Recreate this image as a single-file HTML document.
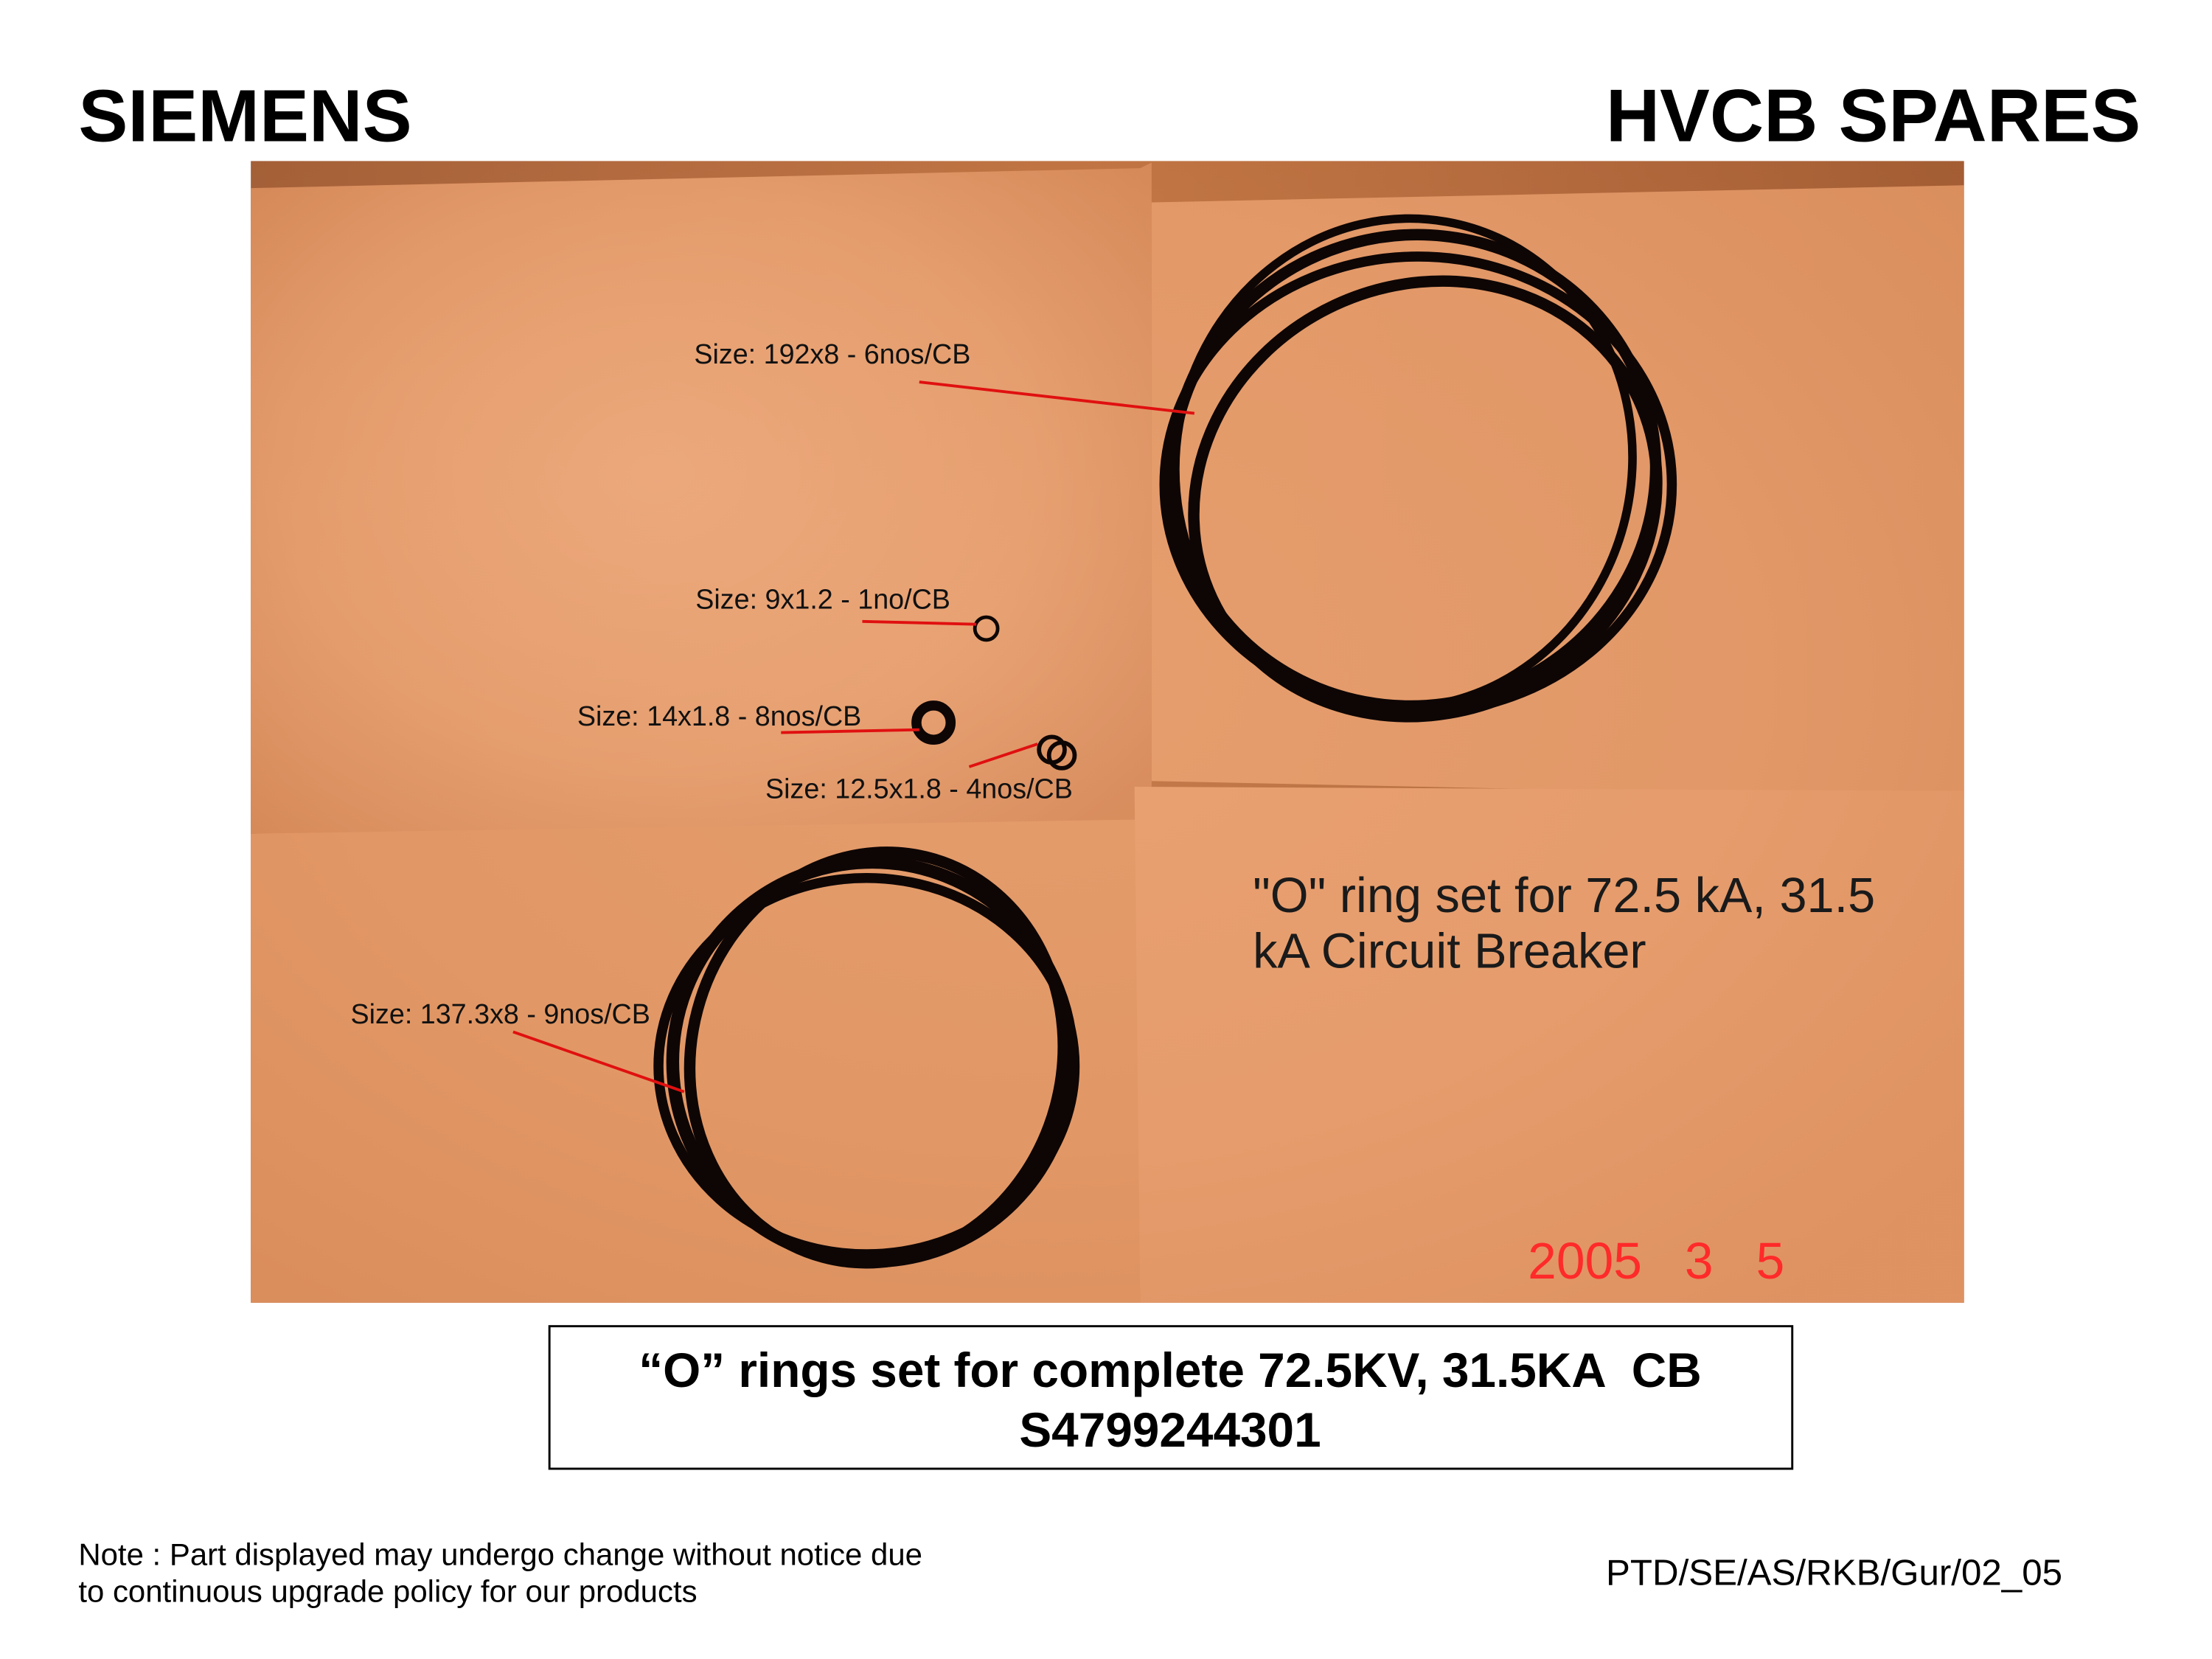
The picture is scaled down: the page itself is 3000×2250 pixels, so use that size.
<!DOCTYPE html>
<html><head><meta charset="utf-8"><style>
html,body{margin:0;padding:0;background:#fff;}
svg{display:block;}
</style></head><body>
<svg width="3000" height="2250" viewBox="0 0 1552 1164" preserveAspectRatio="none" font-family="'Liberation Sans', sans-serif">
<defs>
<radialGradient id="lit" cx="0.45" cy="0.45" r="0.7">
<stop offset="0" stop-color="#eeac80"/><stop offset="0.6" stop-color="#e49c6c"/><stop offset="1" stop-color="#cf8050"/>
</radialGradient>
<linearGradient id="wood" x1="0" x2="1"><stop offset="0" stop-color="#8a4a26"/><stop offset="0.5" stop-color="#b0612f"/><stop offset="1" stop-color="#8c4a24"/></linearGradient>
</defs>
<rect width="1552" height="1164" fill="#fff"/>
<text x="55" y="99" font-size="52" font-weight="bold">SIEMENS</text>
<text x="1502" y="99" font-size="52.5" font-weight="bold" text-anchor="end">HVCB SPARES</text>

<g>
<rect x="176" y="113" width="1202" height="801" fill="url(#wood)"/>
<polygon points="176,132 800,118 808,114 808,600 176,585" fill="url(#lit)"/>
<polygon points="808,142 1378,130 1378,560 808,548" fill="#e59a68" opacity="0.95"/>
<polygon points="176,585 800,575 800,914 176,914" fill="#e09562"/>
<polygon points="796,552 1378,555 1378,914 800,914" fill="#e79c6c"/>
<rect x="176" y="113" width="1202" height="801" fill="url(#lit)" opacity="0.35"/>
<g fill="none" stroke="#0e0605">
<ellipse cx="992" cy="330" rx="170" ry="165" stroke-width="8" transform="rotate(-15 992 330)"/>
<ellipse cx="995" cy="340" rx="178" ry="160" stroke-width="7"/>
<ellipse cx="985" cy="325" rx="160" ry="172" stroke-width="6" transform="rotate(10 985 325)"/>
<ellipse cx="1000" cy="350" rx="165" ry="150" stroke-width="8" transform="rotate(-25 1000 350)"/>
<ellipse cx="612" cy="745" rx="140" ry="140" stroke-width="9"/>
<ellipse cx="615" cy="742" rx="130" ry="145" stroke-width="8" transform="rotate(15 615 742)"/>
<ellipse cx="608" cy="748" rx="146" ry="132" stroke-width="7"/>
<circle cx="692" cy="441" r="8" stroke-width="2.5"/>
<circle cx="655" cy="507" r="12" stroke-width="7"/>
<circle cx="738" cy="526" r="9" stroke-width="3"/>
<circle cx="745" cy="530" r="9" stroke-width="3"/>
</g>
<g stroke="#e01010" stroke-width="2">
<line x1="645" y1="268" x2="838" y2="290"/>
<line x1="605" y1="436" x2="685" y2="438"/>
<line x1="548" y1="514" x2="645" y2="512"/>
<line x1="680" y1="538" x2="728" y2="522"/>
<line x1="360" y1="724" x2="480" y2="766"/>
</g>
<g font-size="19.5" fill="#111">
<text x="487" y="255">Size: 192x8 - 6nos/CB</text>
<text x="488" y="427">Size: 9x1.2 - 1no/CB</text>
<text x="405" y="509">Size: 14x1.8 - 8nos/CB</text>
<text x="537" y="560">Size: 12.5x1.8 - 4nos/CB</text>
<text x="246" y="718">Size: 137.3x8 - 9nos/CB</text>
</g>
<text font-size="34.5" fill="#1a1a1a"><tspan x="879" y="640">"O" ring set for 72.5 kA, 31.5</tspan><tspan x="879" y="679">kA Circuit Breaker</tspan></text>
<text x="1072" y="897" font-size="36" fill="#ff2a2a" xml:space="preserve">2005   3   5</text>
</g>

<rect x="385.5" y="930.5" width="872" height="100" fill="#fff" stroke="#000" stroke-width="1.5"/>
<text font-size="34" font-weight="bold" text-anchor="middle" xml:space="preserve"><tspan x="821" y="973">“O” rings set for complete 72.5KV, 31.5KA  CB</tspan><tspan x="821" y="1015">S4799244301</tspan></text>
<text font-size="21.7"><tspan x="55" y="1098">Note : Part displayed may undergo change without notice due</tspan><tspan x="55" y="1124">to continuous upgrade policy for our products</tspan></text>
<text x="1447" y="1112" font-size="25.5" text-anchor="end">PTD/SE/AS/RKB/Gur/02_05</text>
</svg>
</body></html>
